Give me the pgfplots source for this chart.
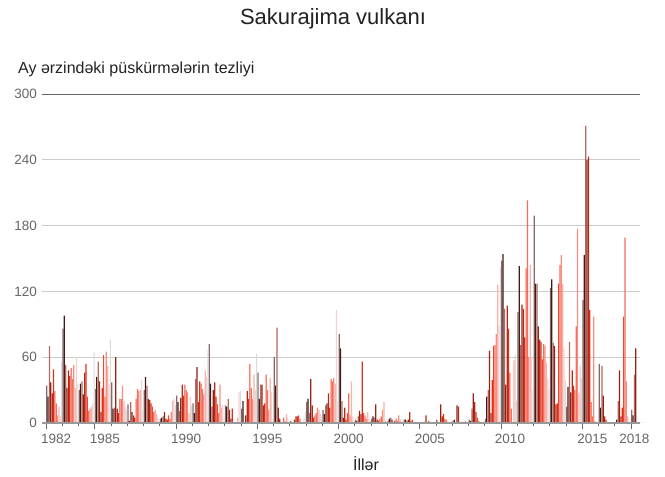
\documentclass[border=0pt]{standalone}
\usepackage{pgfplots}
\pgfplotsset{compat=1.18}
\usepackage{pgfplotstable}
\usepackage{fontspec}
\setmainfont{Liberation Sans}

\definecolor{ink}{HTML}{222222}
\definecolor{tickc}{HTML}{666666}
\definecolor{gridc}{HTML}{CCCCCC}
\definecolor{basec}{HTML}{999999}
\definecolor{topc}{HTML}{666666}
% one colour per month, Jan..Dec
\definecolor{m1}{HTML}{7D6262}
\definecolor{m2}{HTML}{3B0D08}
\definecolor{m3}{HTML}{B0605A}
\definecolor{m4}{HTML}{8E1608}
\definecolor{m5}{HTML}{B01E0A}
\definecolor{m6}{HTML}{D8260F}
\definecolor{m7}{HTML}{F03A22}
\definecolor{m8}{HTML}{F56450}
\definecolor{m9}{HTML}{F7877A}
\definecolor{m10}{HTML}{F9ADA5}
\definecolor{m11}{HTML}{F3CFCB}
\definecolor{m12}{HTML}{D8D8D8}

% monthly eruption counts
\pgfplotstableread{
yr   m1  m2  m3  m4  m5  m6  m7  m8  m9  m10 m11 m12
1982 34  24  70  37  27  49  29  18  7   15  6   56
1983 86  98  53  32  48  43  50  40  53  32  60  36
1984 30  36  38  26  46  54  24  11  13  15  18  65
1985 31  42  56  38  10  32  62  24  65  52  36  76
1986 37  13  14  60  13  9   22  22  34  20  15  12
1987 17  2   19  10  7   5   22  31  29  30  39  12
1988 30  42  34  22  21  18  15  10  12  8   5   4
1989 4   5   6   10  4   3   7   4   10  20  22  16
1990 25  19  11  23  35  25  35  30  28  9   24  16
1991 18  9   40  51  19  38  36  31  26  48  42  66
1992 72  36  15  30  37  24  17  9   35  14  16  4
1993 16  15  22  12  4   13  0   0   0   5   28  29
1994 13  20  0   7   29  22  54  32  22  44  30  63
1995 46  22  35  35  16  18  44  30  12  41  28  4
1996 60  34  87  14  4   1   0   5   2   8   5   0
1997 2   0   0   3   6   6   7   4   1   0   5   10
1998 19  22  9   40  16  5   7   9   14  12  8   6
1999 12  8   16  18  27  14  40  38  41  36  103 20
2000 81  68  20  5   14  3   9   27  7   38  6   2
2001 3   2   6   11  8   56  9   7   4   10  5   2
2002 4   6   5   17  3   2   4   6   12  19  3   1
2003 2   4   5   3   1   2   4   2   7   3   1   0
2004 3   3   2   3   10  2   3   1   0   1   0   0
2005 0   0   0   1   7   0   2   1   0   0   1   0
2006 3   1   0   17  6   8   4   3   1   0   0   0
2007 2   3   0   16  15  0   0   1   1   2   0   1
2008 3   2   13  27  19  10  5   2   1   0   1   2
2009 4   24  30  66  9   39  70  71  81  126 89  142
2010 148 154 104 35  107 86  46  13  0   57  62  20
2011 101 143 71  108 104 78  141 203 60  144 60  30
2012 189 127 127 88  76  74  58  72  70  55  40  30
2013 123 131 73  70  17  18  127 144 153 127 69  39
2014 15  33  74  28  48  34  30  88  177 27  52  41
2015 112 153 271 240 243 103 19  6   97  2   0   0
2016 54  14  52  25  6   3   1   0   0   0   0   0
2017 0   3   20  48  6   14  97  169 38  6   0   0
2018 12  7   44  68  0   0   0   0   0   0   0   0
}\eruptions

\begin{document}
\begin{tikzpicture}
\useasboundingbox (0,0) rectangle (665pt,477pt);
\node[anchor=base, inner sep=0pt, text=ink, font=\fontsize{22}{26}\selectfont] at (333pt,452pt) {Sakurajima vulkanı};
\node[anchor=base west, inner sep=0pt, text=ink, font=\fontsize{16}{19}\selectfont] at (18pt,403pt) {Ay ərzindəki püskürmələrin tezliyi};
\node[anchor=base, inner sep=0pt, text=ink, font=\fontsize{16}{19}\selectfont] at (366pt,6pt) {İllər};

\begin{axis}[
  at={(42pt,54pt)}, anchor=south west,
  scale only axis, width=598pt, height=329pt,
  xmin=1981.75, xmax=2018.55, ymin=0, ymax=300,
  clip=false,
  axis line style={draw=none},
  /pgf/number format/assume math mode=true,
  ytick={0,60,...,300},
  ymajorgrids, grid style={draw=gridc, line width=0.8pt},
  xtick={1982.62,1985.62,1990.62,1995.62,2000.62,2005.62,2010.55,2015.62,2018.2},
  xticklabels={1982,1985,1990,1995,2000,2005,2010,2015,2018},
  minor xtick={1982,...,2018},
  major tick length=0pt, minor tick length=3pt,
  tick align=outside,
  xtick pos=bottom, ytick pos=left,
  tick style={draw=tickc, line width=0.8pt},
  extra x ticks={1982,1985,1990,1995,2000,2005,2010,2015,2018},
  extra x tick labels={},
  extra x tick style={major tick length=6pt, grid=none},
  ticklabel style={font=\fontsize{13.5}{16}\selectfont, text=tickc},
  yticklabel style={xshift=-1.5pt},
  xticklabel style={yshift=-8pt},
]
\pgfplotsinvokeforeach{1,...,12}{
  \addplot[ybar, bar width=0.075, bar shift=0pt, draw=none, fill=m#1, fill opacity=0.95]
    table[x expr=\thisrow{yr}+(#1-0.5)/12, y=m#1] {\eruptions};
}
\draw[basec, line width=1.3pt] (axis cs:1981.75,0) -- (axis cs:2018.55,0);
\draw[topc, line width=0.9pt] (axis cs:1981.75,300) -- (axis cs:2018.55,300);
\end{axis}
\end{tikzpicture}
\end{document}
